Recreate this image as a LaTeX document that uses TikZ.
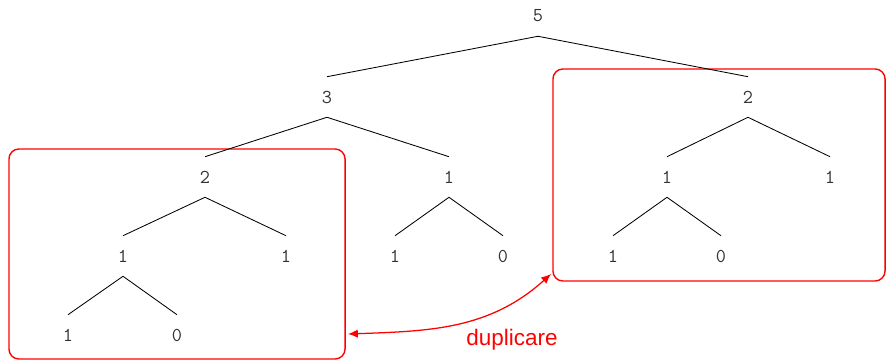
\documentclass[tikz,border=0pt]{standalone}
\usepackage{fontspec}
\newfontfamily\labelfont{Liberation Sans}
\usetikzlibrary{arrows.meta}

\begin{document}
\begin{tikzpicture}[x=0.025cm,y=-0.025cm,
                    every node/.style={inner sep=0pt,minimum height=1cm,text=black!80,
                                       font=\ttfamily\fontsize{14}{14}\selectfont},
                    box/.style={draw=red,line width=1pt,rounded corners=0.25cm,minimum height=0pt},
                    link/.style={line width=0.6pt}]
  \useasboundingbox (0,0) rectangle (887,360);
  % duplicated subtrees
  \node[box,minimum width=8.4cm,minimum height=5.25cm] (boxL) at (177,254) {};
  \node[box,minimum width=8.3cm,minimum height=5.3cm]  (boxR) at (719,175) {};
  % tree
  \node (n5)   at (538,16)  {5};
  \node (n3)   at (327,97)  {3};
  \node (n2r)  at (748,97)  {2};
  \node (n2l)  at (205,177) {2};
  \node (n1m)  at (449,177) {1};
  \node (n1ra) at (667,177) {1};
  \node (n1rb) at (830,177) {1};
  \node (n1la) at (123,256) {1};
  \node (n1lb) at (286,256) {1};
  \node (n1mm) at (395,256) {1};
  \node (n0mm) at (503,256) {0};
  \node (n1rr) at (613,256) {1};
  \node (n0rr) at (721,256) {0};
  \node (n1ll) at (68,335)  {1};
  \node (n0ll) at (177,335) {0};
  \draw[link] (n5.south)--(n3.north) (n5.south)--(n2r.north)
              (n3.south)--(n2l.north) (n3.south)--(n1m.north)
              (n2l.south)--(n1la.north) (n2l.south)--(n1lb.north)
              (n1la.south)--(n1ll.north) (n1la.south)--(n0ll.north)
              (n1m.south)--(n1mm.north) (n1m.south)--(n0mm.north)
              (n2r.south)--(n1ra.north) (n2r.south)--(n1rb.north)
              (n1ra.south)--(n1rr.north) (n1ra.south)--(n0rr.north);
  % arrow between the boxes
  \coordinate (pL) at (348,334);
  \coordinate (pR) at (551,274);
  \draw[red,line width=0.9pt,{Latex[length=7pt,width=6pt]}-{Latex[length=7pt,width=6pt]}]
    (pL) to[out=2,in=-138] (pR);
  \node[text=red,font=\labelfont\fontsize{16}{16}\selectfont] (dup) at (512,340) {duplicare};
\end{tikzpicture}
\end{document}
